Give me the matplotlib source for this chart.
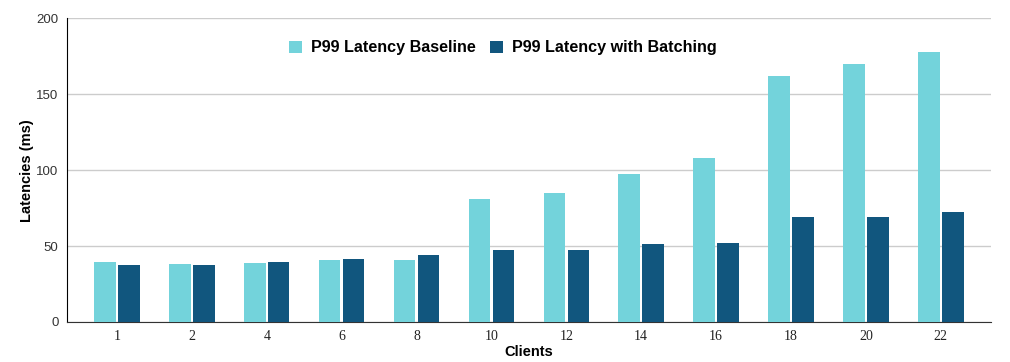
import matplotlib
matplotlib.use("Agg")
import matplotlib.pyplot as plt
import numpy as np

# data
clients = ["1", "2", "4", "6", "8", "10", "12", "14", "16", "18", "20", "22"]
p99_baseline = [39.3, 38.2, 38.9, 40.9, 40.9, 81.1, 85.0, 97.5, 108.0, 162.0, 170.0, 178.0]
p99_batching = [37.3, 37.3, 39.3, 41.5, 44.2, 47.4, 47.4, 51.4, 52.1, 69.2, 69.2, 72.5]

c_base = "#73D3DB"
c_batch = "#11567E"

fig = plt.figure(figsize=(10.1, 3.62), dpi=100)
ax = fig.add_axes([0.0663, 0.1105, 0.9147, 0.8385])

x = np.arange(len(clients))
w = 0.287
off = 0.16
ax.bar(x - off, p99_baseline, w, color=c_base, label="P99 Latency Baseline", zorder=3)
ax.bar(x + off, p99_batching, w, color=c_batch, label="P99 Latency with Batching", zorder=3)

ax.set_xlim(-0.668, len(clients) - 1 + 0.668)
ax.set_ylim(0, 200)
ax.set_yticks([0, 50, 100, 150, 200])
ax.grid(axis="y", color="#cccccc", linewidth=1, zorder=0)
ax.set_axisbelow(True)

for s in ["top", "right"]:
    ax.spines[s].set_visible(False)
ax.spines["left"].set_color("#000000")
ax.spines["bottom"].set_color("#333333")

ax.set_xticks(x)
ax.set_xticklabels(clients, family="Liberation Serif", fontsize=10, color="#222222")
for lab in ax.get_yticklabels():
    lab.set_family("Liberation Sans")
    lab.set_fontsize(9.5)
    lab.set_color("#333333")
ax.tick_params(axis="both", length=0)
ax.tick_params(axis="x", pad=6)
ax.tick_params(axis="y", pad=6)

ax.set_xlabel("Clients", family="Liberation Sans", fontweight="bold", fontsize=10.5, labelpad=1)
ax.set_ylabel("Latencies (ms)", family="Liberation Sans", fontweight="bold", fontsize=10.5, labelpad=2)

ax.legend(loc="center", bbox_to_anchor=(0.472, 0.903), ncol=2, frameon=False,
          prop={"family": "Liberation Sans", "weight": "bold", "size": 11.6},
          handlelength=0.8, handleheight=0.8, handletextpad=0.55, columnspacing=0.9)

fig.savefig("out.png", dpi=100)
